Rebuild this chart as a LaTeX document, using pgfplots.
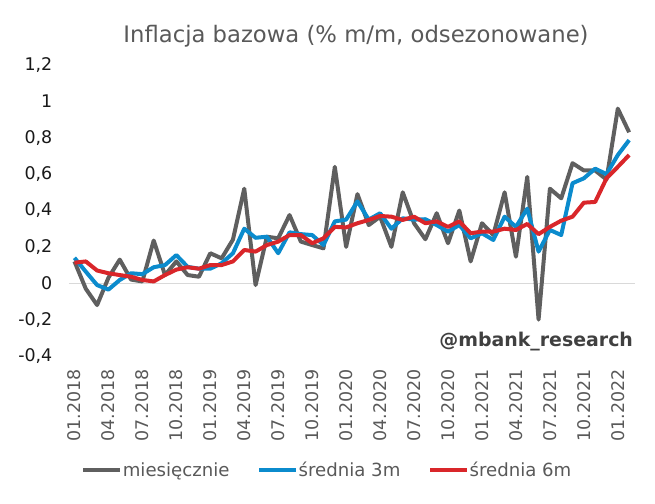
\documentclass[border=0pt]{standalone}
\usepackage{fontspec}
\setmainfont{DejaVu Sans}
\usepackage{pgfplots}
\usepackage{pgfplotstable}
\pgfplotsset{compat=1.18}
\definecolor{cgray}{HTML}{5F5F5F}
\definecolor{cblue}{HTML}{0B8BCD}
\definecolor{cred}{HTML}{D9262A}
\definecolor{ctext}{HTML}{595959}
\definecolor{cmark}{HTML}{404040}

% i = miesiac od 01.2018
\pgfplotstableread{
i  m      s3     s6
0  0.12   0.14   0.113
1  -0.03  0.064  0.12
2  -0.12  -0.01  0.07
3  0.03   -0.035 0.055
4  0.13   0.018  0.045
5  0.02   0.055  0.036
6  0.01   0.05   0.018
7  0.235  0.088  0.01
8  0.045  0.10   0.045
9  0.12   0.155  0.075
10 0.045  0.09   0.088
11 0.036  0.08   0.08
12 0.165  0.08   0.10
13 0.137  0.11   0.10
14 0.24   0.165  0.12
15 0.52   0.30   0.183
16 -0.01  0.25   0.174
17 0.256  0.256  0.21
18 0.247  0.165  0.229
19 0.375  0.28   0.265
20 0.229  0.27   0.265
21 0.21   0.265  0.22
22 0.192  0.21   0.247
23 0.64   0.34   0.31
24 0.20   0.35   0.307
25 0.49   0.45   0.33
26 0.32   0.35   0.348
27 0.366  0.385  0.37
28 0.20   0.30   0.366
29 0.50   0.357  0.348
30 0.33   0.35   0.366
31 0.242  0.352  0.33
32 0.385  0.32   0.34
33 0.22   0.284  0.31
34 0.40   0.32   0.34
35 0.12   0.247  0.275
36 0.33   0.275  0.284
37 0.265  0.238  0.284
38 0.50   0.366  0.30
39 0.146  0.31   0.293
40 0.585  0.41   0.326
41 -0.20  0.174  0.27
42 0.52   0.293  0.31
43 0.467  0.265  0.344
44 0.66   0.55   0.366
45 0.62   0.577  0.443
46 0.62   0.63   0.447
47 0.57   0.60   0.577
48 0.96   0.705  0.64
49 0.83   0.787  0.705
}\datatab

\begin{document}
\begin{tikzpicture}
\path[use as bounding box] (-68.8bp,-148bp) rectangle (586.2bp,356bp);
\begin{axis}[
  at={(0,0)}, anchor=south west,
  scale only axis, width=566bp, height=291bp,
  xmin=-0.5, xmax=49.5, ymin=-0.4, ymax=1.2,
  axis line style={draw=none},
  major tick length=0pt,
  xtick={0,3,...,48},
  xticklabels={01.2018,04.2018,07.2018,10.2018,01.2019,04.2019,07.2019,10.2019,01.2020,04.2020,07.2020,10.2020,01.2021,04.2021,07.2021,10.2021,01.2022},
  ytick={-0.4,-0.2,0,0.2,0.4,0.6,0.8,1,1.2},
  yticklabels={{-0,4},{-0,2},0,{0,2},{0,4},{0,6},{0,8},1,{1,2}},
  tick label style={font=\fontsize{17.5}{20}\selectfont},
  xticklabel style={yshift=-10bp, rotate=90, anchor=east, text=ctext},
  yticklabel style={xshift=-13bp, text=black!90},
  extra y ticks={0},
  extra y tick labels={},
  extra y tick style={ymajorgrids=true, major grid style={color=black!15, line width=1bp}},
  title={Inflacja bazowa (\% m/m, odsezonowane)},
  title style={at={(axis description cs:0.5074,1.08)}, anchor=center,
    font=\fontsize{22.8}{25}\selectfont, text=ctext},
  legend columns=3,
  legend style={at={(axis description cs:0.4555,-0.392)}, anchor=center,
    draw=none, fill=none, font=\fontsize{18.2}{20}\selectfont, text=ctext,
    /tikz/every even column/.append style={column sep=27bp},
    nodes={inner sep=0.6bp}},
  legend image code/.code={\draw[#1, line cap=butt] (0bp,0bp) -- (37bp,0bp);},
  every axis plot/.append style={no marks, line join=round, line width=4bp},
]
\addplot[cgray] table[x=i, y=m] {\datatab};
\addlegendentry{miesięcznie}
\addplot[cblue] table[x=i, y=s3] {\datatab};
\addlegendentry{średnia 3m}
\addplot[cred] table[x=i, y=s6] {\datatab};
\addlegendentry{średnia 6m}
\node[anchor=east, font=\bfseries\fontsize{19}{21}\selectfont, text=cmark]
  at (axis description cs:1.003,0.0485) {@mbank\_research};
\end{axis}
\end{tikzpicture}
\end{document}
